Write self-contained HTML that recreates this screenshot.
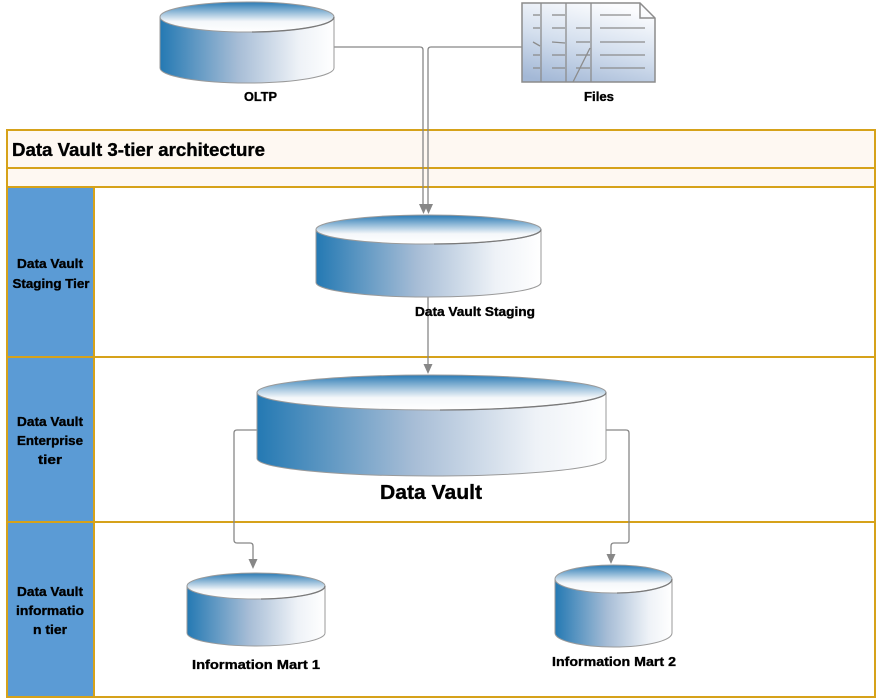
<!DOCTYPE html>
<html><head><meta charset="utf-8"><style>
html,body{margin:0;padding:0;background:#fff;}
svg{display:block;}
text{font-family:"Liberation Sans",Arial,sans-serif;font-weight:bold;fill:#000;stroke:#000;stroke-width:0.35;}
</style></head><body>
<svg width="878" height="699" viewBox="0 0 878 699" xmlns="http://www.w3.org/2000/svg">
<defs>
<linearGradient id="body" x1="0" y1="0" x2="1" y2="0">
<stop offset="0" stop-color="#2479B3"/>
<stop offset="0.45" stop-color="#A7BDD6"/>
<stop offset="0.8" stop-color="#EEF2F7"/>
<stop offset="1" stop-color="#FFFFFF"/>
</linearGradient>
<linearGradient id="top" x1="0" y1="0" x2="0" y2="1">
<stop offset="0" stop-color="#2A7AB4"/>
<stop offset="0.65" stop-color="#F4F7FA"/>
<stop offset="1" stop-color="#FFFFFF"/>
</linearGradient>
<linearGradient id="files" x1="0.2" y1="1" x2="0.6" y2="0">
<stop offset="0" stop-color="#A3B8D6"/>
<stop offset="0.5" stop-color="#D4DFEE"/>
<stop offset="1" stop-color="#FBFCFE"/>
</linearGradient>
</defs>

<!-- frame -->
<rect x="7" y="130" width="869" height="57" fill="#FEF8F2"/>
<rect x="7" y="187" width="87" height="510" fill="#5B9BD5"/>
<g stroke="#D6A21A" stroke-width="2" fill="none">
<rect x="7" y="130" width="868" height="567"/>
<line x1="7" y1="168" x2="875" y2="168"/>
<line x1="7" y1="187" x2="875" y2="187"/>
<line x1="7" y1="357" x2="875" y2="357"/>
<line x1="7" y1="522" x2="875" y2="522"/>
<line x1="94" y1="187" x2="94" y2="697"/>
</g>

<text x="12" y="156" font-size="18" textLength="253" lengthAdjust="spacingAndGlyphs">Data Vault 3-tier architecture</text>

<g font-size="13" text-anchor="middle">
<text x="50" y="268" textLength="66" lengthAdjust="spacingAndGlyphs">Data Vault</text>
<text x="51" y="288" textLength="77" lengthAdjust="spacingAndGlyphs">Staging Tier</text>
<text x="50" y="426" textLength="66" lengthAdjust="spacingAndGlyphs">Data Vault</text>
<text x="50" y="445" textLength="66" lengthAdjust="spacingAndGlyphs">Enterprise</text>
<text x="50" y="464" textLength="24" lengthAdjust="spacingAndGlyphs">tier</text>
<text x="50" y="596" textLength="66" lengthAdjust="spacingAndGlyphs">Data Vault</text>
<text x="50" y="615" textLength="68" lengthAdjust="spacingAndGlyphs">informatio</text>
<text x="50" y="634" textLength="34" lengthAdjust="spacingAndGlyphs">n tier</text>
</g>

<!-- connectors -->
<g stroke="#878787" stroke-width="1.3" fill="none">
<path d="M334 47 H420 Q423 47 423 50 V205"/>
<path d="M522 47 H431 Q428 47 428 50 V205"/>
<path d="M428 297 V365"/>
<path d="M257 430 H237 Q234 430 234 433 V540 Q234 543 237 543 H250 Q253 543 253 546 V560"/>
<path d="M606 430 H626 Q629 430 629 433 V540 Q629 543 626 543 H614 Q611 543 611 546 V555"/>
</g>
<g fill="#878787">
<polygon points="419,204 428,204 423.5,214"/>
<polygon points="424,204 433,204 428.5,214"/>
<polygon points="423.5,364 432.5,364 428,374"/>
<polygon points="248.5,559 257.5,559 253,569"/>
<polygon points="606.5,554 615.5,554 611,564"/>
</g>

<!-- cylinders -->
<g stroke="#9A9A9A" stroke-width="1">
<path d="M160 17 V68 A87 15 0 0 0 334 68 V17 Z" fill="url(#body)"/>
<ellipse cx="247" cy="17" rx="87" ry="15" fill="url(#top)"/>
<path d="M316 229.5 V282.5 A112.5 14.5 0 0 0 541 282.5 V229.5 Z" fill="url(#body)"/>
<ellipse cx="428.5" cy="229.5" rx="112.5" ry="14.5" fill="url(#top)"/>
<path d="M257 392.5 V458.5 A174.5 17.5 0 0 0 606 458.5 V392.5 Z" fill="url(#body)"/>
<ellipse cx="431.5" cy="392.5" rx="174.5" ry="17.5" fill="url(#top)"/>
<path d="M187 586 V633 A69 13 0 0 0 325 633 V586 Z" fill="url(#body)"/>
<ellipse cx="256" cy="586" rx="69" ry="13" fill="url(#top)"/>
<path d="M555 579 V633 A58.5 14 0 0 0 672 633 V579 Z" fill="url(#body)"/>
<ellipse cx="613.5" cy="579" rx="58.5" ry="14" fill="url(#top)"/>
</g>
<g stroke="#7A7A7A" stroke-width="1.3" fill="none">
<path d="M252 32 A87 15 0 0 0 334 17"/>
<path d="M434 244 A112.5 14.5 0 0 0 541 229.5"/>
<path d="M440 410 A174.5 17.5 0 0 0 606 392.5"/>
<path d="M261 599 A69 13 0 0 0 325 586"/>
<path d="M617 593 A58.5 14 0 0 0 672 579"/>
</g>

<!-- Files icon -->
<path d="M522 3 H640 L655 18 V82 H522 Z" fill="url(#files)" stroke="#8C8C8C" stroke-width="1.5"/>
<path d="M640 3 V18 H655" fill="none" stroke="#8C8C8C" stroke-width="1.5"/>
<g stroke="#8C8C8C" stroke-width="1.3" fill="none">
<line x1="541" y1="3" x2="541" y2="82"/>
<line x1="566" y1="3" x2="566" y2="82"/>
<line x1="591" y1="3" x2="591" y2="82"/>
<line x1="533" y1="15" x2="540" y2="15"/>
<line x1="533" y1="28" x2="540" y2="28"/>
<line x1="533" y1="42" x2="540" y2="46"/>
<line x1="533" y1="55" x2="540" y2="55"/>
<line x1="533" y1="68" x2="540" y2="68"/>
<line x1="552" y1="15" x2="565" y2="15"/>
<line x1="552" y1="28" x2="565" y2="28"/>
<line x1="552" y1="42" x2="565" y2="43"/>
<line x1="552" y1="55" x2="565" y2="55"/>
<line x1="552" y1="68" x2="565" y2="68"/>
<line x1="576" y1="28" x2="590" y2="28"/>
<line x1="576" y1="42" x2="590" y2="42"/>
<line x1="576" y1="55" x2="590" y2="55"/>
<line x1="576" y1="68" x2="590" y2="68"/>
<line x1="590" y1="48" x2="573" y2="82"/>
<line x1="600" y1="15" x2="631" y2="15"/>
<line x1="600" y1="28" x2="645" y2="28"/>
<line x1="600" y1="42" x2="645" y2="42"/>
<line x1="600" y1="55" x2="645" y2="55"/>
<line x1="600" y1="68" x2="645" y2="68"/>
</g>

<!-- labels -->
<g font-size="13" text-anchor="middle">
<text x="260.5" y="101" textLength="33" lengthAdjust="spacingAndGlyphs">OLTP</text>
<text x="599" y="101" textLength="30" lengthAdjust="spacingAndGlyphs">Files</text>
<text x="475" y="316" textLength="120" lengthAdjust="spacingAndGlyphs">Data Vault Staging</text>
<text x="256" y="669" textLength="128" lengthAdjust="spacingAndGlyphs">Information Mart 1</text>
<text x="614" y="666" textLength="124" lengthAdjust="spacingAndGlyphs">Information Mart 2</text>
</g>
<text x="431" y="499" font-size="20" text-anchor="middle" textLength="102" lengthAdjust="spacingAndGlyphs">Data Vault</text>
</svg>
</body></html>
